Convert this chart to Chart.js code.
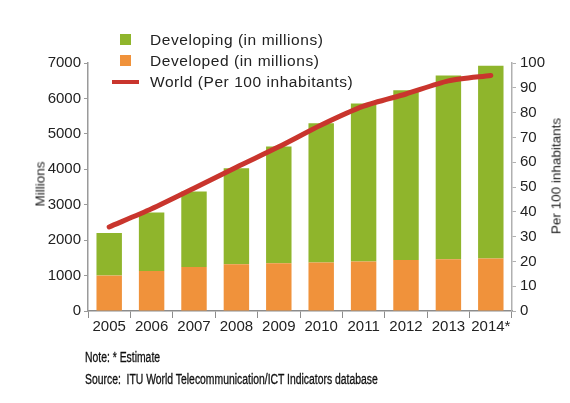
<!DOCTYPE html>
<html>
<head>
<meta charset="utf-8">
<script src="https://cdn.jsdelivr.net/npm/chart.js@4"></script>
<style>
  body { margin: 0; background: #fff; }
  #wrap { position: relative; width: 570px; height: 403px; }
  #legend { position: absolute; left: 108px; top: 29px; font-family: "Liberation Sans", Arial, sans-serif; font-size: 15.5px; letter-spacing: 0.55px; color: #222; }
  .row { height: 21px; line-height: 21px; position: relative; padding-left: 42px; white-space: nowrap; }
  .sw { position: absolute; left: 12px; top: 5px; width: 11px; height: 11px; }
  .ln { position: absolute; left: 4px; top: 9px; width: 27px; height: 4px; background: #c9352d; }
  .ytitle { position: absolute; font-family: "Liberation Sans", Arial, sans-serif; font-size: 13.5px; color: #222; white-space: nowrap; transform: translate(-50%, -50%) rotate(-90deg); }
  #notes { position: absolute; left: 85px; top: 346px; font-family: "Liberation Sans Narrow", "Liberation Sans", sans-serif; font-size: 14px; color: #111; line-height: 22px; transform-origin: 0 0; white-space: nowrap; -webkit-text-stroke: 0.3px #111; }
</style>
</head>
<body>
<div id="wrap">
  <canvas id="chart" width="570" height="403"></canvas>
  <div id="legend"></div>
  <div class="ytitle" style="left: 40px; top: 184px;">Millions</div>
  <div class="ytitle" style="left: 556px; top: 176px;">Per 100 inhabitants</div>
  <div id="notes">Note: * Estimate<br>Source:&nbsp; ITU World Telecommunication/ICT Indicators database</div>
</div>
<script>
// Categories and values
let years = ['2005', '2006', '2007', '2008', '2009', '2010', '2011', '2012', '2013', '2014*'];
let developed = [1000, 1130, 1240, 1320, 1350, 1370, 1400, 1440, 1460, 1480];
let developing = [1200, 1650, 2130, 2710, 3290, 3930, 4460, 4790, 5190, 5440];
let world = [33.9, 41.2, 49.5, 58.0, 66.2, 75.0, 82.6, 87.5, 92.8, 95.0];

let leftTicks = [0, 1000, 2000, 3000, 4000, 5000, 6000, 7000];
let rightTicks = [0, 10, 20, 30, 40, 50, 60, 70, 80, 90, 100];

let green = '#8fb52c';
let orange = '#f0923b';
let red = '#c9352d';

// Build the legend (vertical, top left)
let legendItems = [
    { label: 'Developing (in millions)', color: green, kind: 'box' },
    { label: 'Developed (in millions)', color: orange, kind: 'box' },
    { label: 'World (Per 100 inhabitants)', color: red, kind: 'line' }
];
let legendEl = document.getElementById('legend');
legendItems.forEach(item => {
    let row = document.createElement('div');
    row.className = 'row';
    let mark = document.createElement('span');
    mark.className = item.kind === 'box' ? 'sw' : 'ln';
    mark.style.background = item.color;
    row.appendChild(mark);
    row.appendChild(document.createTextNode(item.label));
    legendEl.appendChild(row);
});

// Squeeze the source note to a narrow look
let notes = document.getElementById('notes');
notes.style.transform = 'scaleX(' + (293 / notes.offsetWidth).toFixed(3) + ')';

let tickFont = { family: 'Liberation Sans, Arial, sans-serif', size: 15 };

let ctx = document.getElementById('chart').getContext('2d');
new Chart(ctx, {
    type: 'bar',
    data: {
        labels: years,
        datasets: [
            {
                type: 'line',
                label: 'World (Per 100 inhabitants)',
                data: world,
                yAxisID: 'y1',
                borderColor: red,
                borderWidth: 5,
                pointRadius: 0,
                tension: 0.25,
                borderCapStyle: 'round',
                order: 0
            },
            {
                label: 'Developed (in millions)',
                data: developed,
                backgroundColor: orange,
                stack: 's',
                barPercentage: 0.6,
                categoryPercentage: 1,
                order: 1
            },
            {
                label: 'Developing (in millions)',
                data: developing,
                backgroundColor: green,
                stack: 's',
                barPercentage: 0.6,
                categoryPercentage: 1,
                order: 1
            }
        ]
    },
    options: {
        responsive: false,
        animation: false,
        layout: { padding: { top: 63, left: 0, right: 0, bottom: 0 } },
        plugins: {
            legend: { display: false },
            tooltip: { enabled: false }
        },
        scales: {
            x: {
                stacked: true,
                offset: true,
                border: { color: '#8c8c8c', width: 1.5 },
                grid: { display: true, drawOnChartArea: false, offset: true, color: '#8c8c8c', tickLength: 7 },
                ticks: { color: '#222', font: tickFont, padding: 0, maxRotation: 0 },
                afterFit: function (scale) { scale.height = 92; }
            },
            y: {
                stacked: true,
                min: 0,
                max: 7000,
                afterBuildTicks: function (scale) { scale.ticks = leftTicks.map(v => ({ value: v })); },
                border: { color: '#9a9a9a', width: 1.5 },
                grid: { drawOnChartArea: false, color: '#9a9a9a', tickLength: 4 },
                ticks: { color: '#222', font: tickFont, padding: 3, callback: v => String(v) },
                afterFit: function (scale) { scale.width = 88; }
            },
            y1: {
                position: 'right',
                min: 0,
                max: 100,
                afterBuildTicks: function (scale) { scale.ticks = rightTicks.map(v => ({ value: v })); },
                border: { color: '#b0b0b0', width: 1.5 },
                grid: { drawOnChartArea: false, color: '#b0b0b0', tickLength: 4 },
                ticks: { color: '#222', font: tickFont, padding: 4, callback: v => String(v) },
                afterFit: function (scale) { scale.width = 58; }
            }
        }
    }
});
</script>
</body>
</html>
